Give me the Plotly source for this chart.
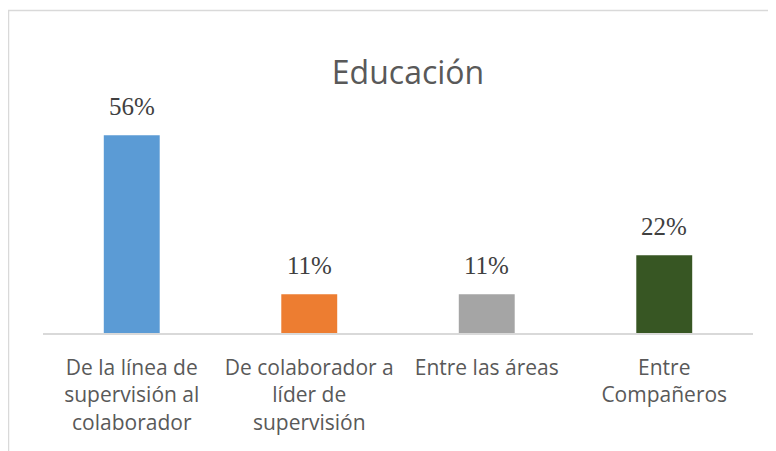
import plotly.graph_objects as go

categories = ["De la línea de<br>supervisión al<br>colaborador",
              "De colaborador a<br>líder de<br>supervisión",
              "Entre las áreas",
              "Entre<br>Compañeros"]
values = [56, 11, 11, 22]
labels = ["56%", "11%", "11%", "22%"]
colors = ["#5B9BD5", "#ED7D31", "#A5A5A5", "#375623"]
title_text = "Educación"

# page body has an 8px default margin; figure fills the rest of the window
W, H = 768, 443
L, R, T, B = 35, 23, 92, 118
plot_w = W - L - R
plot_h = H - T - B

fig = go.Figure()
fig.add_trace(go.Bar(x=categories, y=values, marker=dict(color=colors, line=dict(width=0)),
                     hoverinfo="skip"))

for c, v, t in zip(categories, values, labels):
    fig.add_annotation(x=c, y=v, text=t, showarrow=False, yanchor="bottom", yshift=13,
                       font=dict(family="Liberation Serif", size=25, color="#404040"))

# chart border (cropped: only left and top edges visible)
bx = 0.5
by = 2.5
fig.add_shape(type="rect", xref="paper", yref="paper",
              x0=(bx - L) / plot_w, x1=(W + 20 - L) / plot_w,
              y0=-(B + 20) / plot_h, y1=(H - B - by) / plot_h,
              line=dict(color="#D9D9D9", width=1.5), layer="below")

fig.update_layout(
    width=W, height=H,
    margin=dict(l=L, r=R, t=T, b=B, autoexpand=False),
    paper_bgcolor="white", plot_bgcolor="white",
    showlegend=False,
    bargap=0.685,
    title=dict(text=title_text, xref="paper", x=(400 - L) / plot_w, xanchor="center",
               yref="container", y=1 - 65 / H, yanchor="middle",
               font=dict(family="Open Sans", size=32, color="#595959")),
    xaxis=dict(showline=True, linecolor="#D9D9D9", linewidth=1.5, ticks="",
               tickfont=dict(family="Open Sans", size=21, color="#595959"),
               ticklabelstandoff=15, showgrid=False, zeroline=False, fixedrange=True,
               automargin=False),
    yaxis=dict(range=[0, plot_h / 3.53], visible=False, showgrid=False, zeroline=False,
               automargin=False),
)

fig.write_html("out.html")
